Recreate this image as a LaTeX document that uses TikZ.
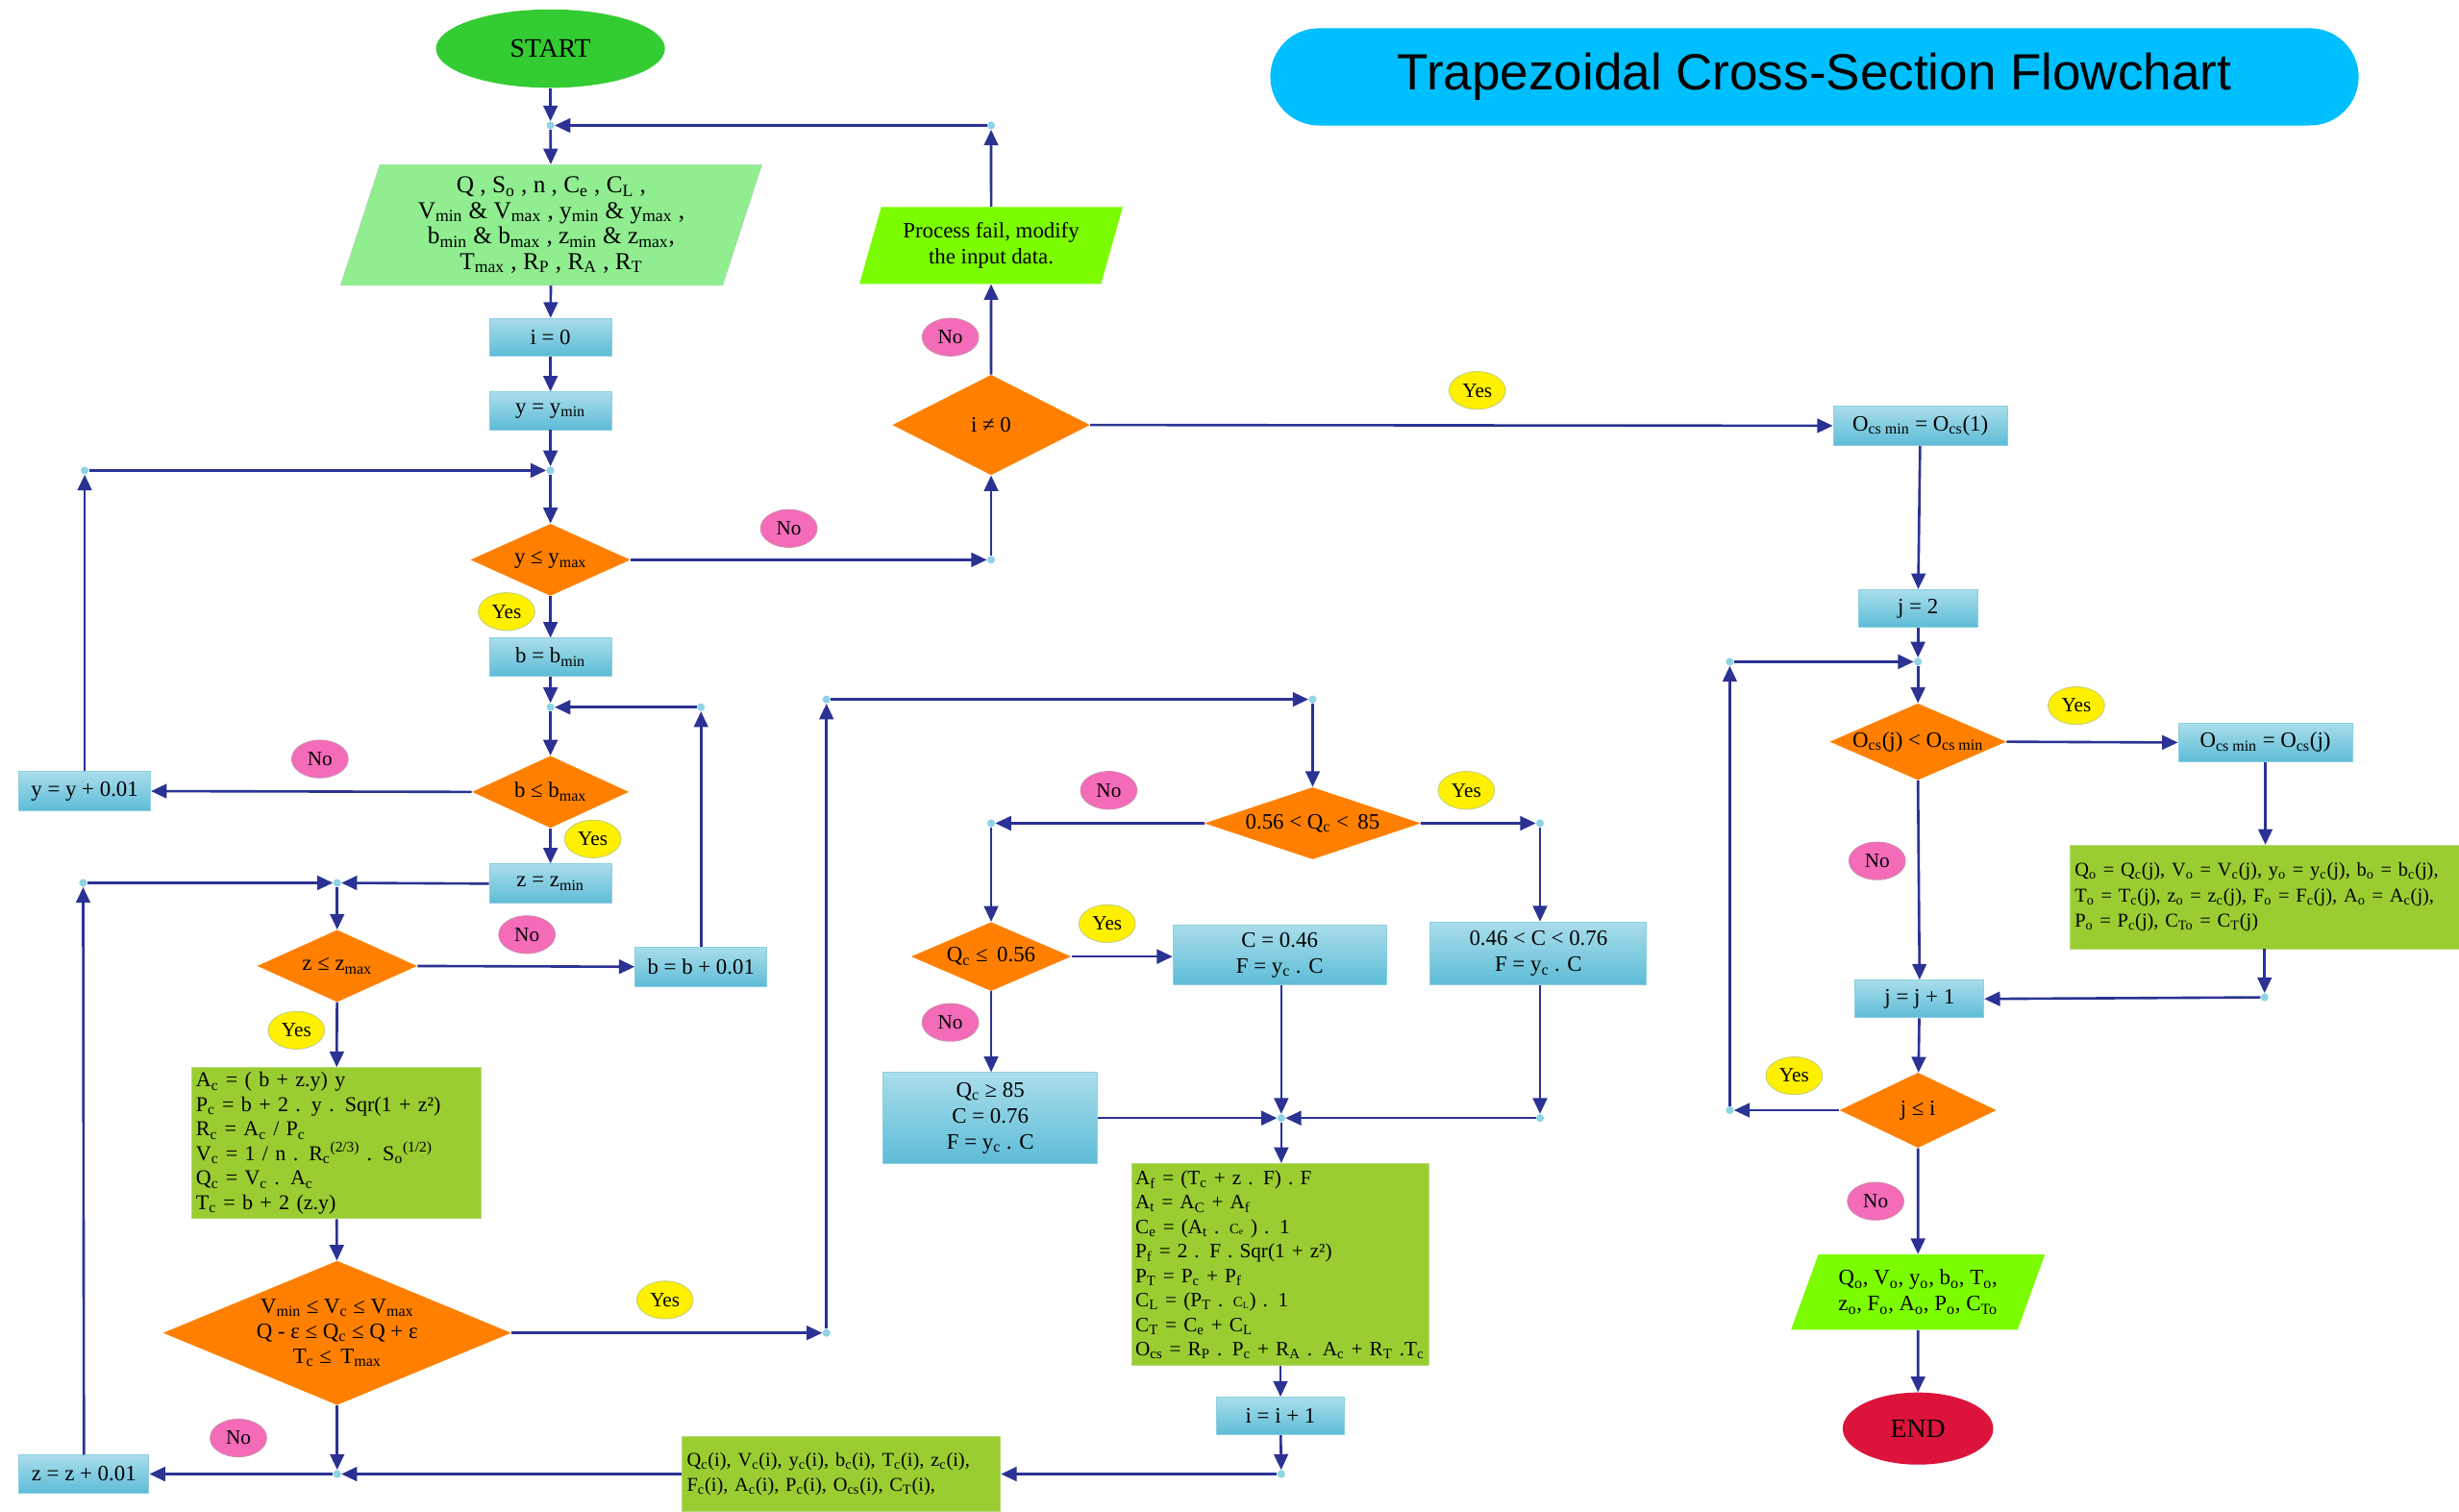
\documentclass[tikz,border=0pt]{standalone}
\usepackage{fontspec}
\setmainfont{Liberation Serif}
\newfontfamily\titlefont{Liberation Sans}
\usetikzlibrary{shapes.geometric,arrows.meta}
\newcommand\sbs[1]{\textsubscript{#1}}
\newcommand\sps[1]{\textsuperscript{#1}}
\newcommand\smallc[1]{{\fontsize{9}{9}\selectfont #1}}
\definecolor{linec}{HTML}{2B3293}
\definecolor{dotc}{HTML}{8ED3E6}
\definecolor{decc}{HTML}{FF8000}
\definecolor{proctop}{HTML}{A9DDEB}
\definecolor{procbot}{HTML}{5DBCD7}
\definecolor{procb}{HTML}{8CCFE0}
\definecolor{inc}{HTML}{90EE90}
\definecolor{lawn}{HTML}{7CFC00}
\definecolor{calcg}{HTML}{9ACD32}
\definecolor{calcb}{HTML}{B5DA78}
\definecolor{startc}{HTML}{33CC33}
\definecolor{endc}{HTML}{DC143C}
\definecolor{yesc}{HTML}{FFF000}
\definecolor{yesb}{HTML}{C9D27A}
\definecolor{noc}{HTML}{F46BB8}
\definecolor{nob}{HTML}{D38AB0}
\definecolor{titlec}{HTML}{00BFFF}
\begin{document}
\begin{tikzpicture}[x=1pt,y=-1pt,
  arr/.style={draw=linec, line width=1.6pt, -{Triangle[length=10pt,width=9pt]}},
  proc/.style={rectangle, draw=procb, line width=0.6pt, top color=proctop, middle color=proctop!92!procbot, bottom color=procbot, inner sep=2pt, align=center, font=\fontsize{14}{16.5}\selectfont},
  dec/.style={diamond, fill=decc, inner sep=0pt, align=center, font=\fontsize{14}{16.5}\selectfont},
  calc/.style={rectangle, fill=calcg, draw=calcb, line width=0.6pt, align=left, inner sep=3pt},
  para/.style={trapezium, trapezium stretches=true, inner sep=2pt, align=center, font=\fontsize{14}{16.5}\selectfont},
  dot/.style={circle, fill=dotc, inner sep=0pt, minimum size=5pt},
  yes/.style={ellipse, fill=yesc, draw=yesb, line width=0.6pt, minimum width=36pt, minimum height=24pt, inner sep=0pt, font=\fontsize{13}{13}\selectfont},
  no/.style={ellipse, fill=noc, draw=nob, line width=0.6pt, minimum width=36pt, minimum height=24pt, inner sep=0pt, font=\fontsize{13}{13}\selectfont},
  term/.style={ellipse, inner sep=0pt, font=\fontsize{17}{17}\selectfont}
]
\useasboundingbox (0,0) rectangle (1568,964);
\fill[white] (0,0) rectangle (1568,964);

% title
\node[rectangle, rounded corners=31pt, fill=titlec, minimum width=694pt, minimum height=62pt, font=\titlefont\fontsize{32.5}{34}\selectfont] (title) at (1157,49) {Trapezoidal Cross-Section Flowchart};

% left column
\node[term, fill=startc, minimum width=146pt, minimum height=50pt] (start) at (351,31) {START};
\node[dot] (j0) at (351,80) {};
\node[dot] (d1) at (632,80) {};
\node[para, fill=inc, draw=inc!80!black!60, line width=0.4pt, minimum width=269pt, minimum height=77pt, trapezium left angle=73, trapezium right angle=107, font=\fontsize{15.5}{16.2}\selectfont] (input) at (351.5,143.5)
 {Q , S\sbs{o} , n , C\sbs{e} , C\sbs{L} ,\\ V\sbs{min} \& V\sbs{max} , y\sbs{min} \& y\sbs{max} ,\\ b\sbs{min} \& b\sbs{max} , z\sbs{min} \& z\sbs{max},\\ T\sbs{max} , R\sbs{P} , R\sbs{A} , R\sbs{T}};
\node[proc, minimum width=78pt, minimum height=24pt] (i0) at (351,215) {i = 0};
\node[proc, minimum width=78pt, minimum height=24pt] (ymin) at (351,262) {y = y\sbs{min}};
\node[dot] (j1) at (351,300) {};
\node[dot] (d2) at (54,300) {};
\node[dec, minimum width=102pt, minimum height=46pt, aspect=2.2] (dy) at (351,357) {y ≤ y\sbs{max}};
\node[proc, minimum width=78pt, minimum height=24pt] (bmin) at (351,419) {b = b\sbs{min}};
\node[dot] (j2) at (351,451) {};
\node[dot] (d3) at (447,451) {};
\node[dec, minimum width=100pt, minimum height=46pt, aspect=2.2] (db) at (351,505) {b ≤ b\sbs{max}};
\node[proc, minimum width=84pt, minimum height=25pt] (yinc) at (54,504.5) {y = y + 0.01};
\node[proc, minimum width=78pt, minimum height=25pt] (zmin) at (351,563.5) {z = z\sbs{min}};
\node[dot] (j3) at (215,563) {};
\node[dot] (d4) at (53,563) {};
\node[dec, minimum width=102pt, minimum height=46pt, aspect=2.2] (dz) at (215,616) {z ≤ z\sbs{max}};
\node[proc, minimum width=84pt, minimum height=25pt] (binc) at (447,616.5) {b = b + 0.01};
\node[calc, minimum width=185pt, minimum height=96pt, text width=179pt, font=\fontsize{13.5}{15.6}\selectfont] (calc1) at (214.5,729)
 {A\sbs{c} = ( b + z.y) y\\
  P\sbs{c} = b + 2 . y . Sqr(1 + z²)\\
  R\sbs{c} = A\sbs{c} / P\sbs{c}\\
  V\sbs{c} = 1 / n . R\sbs{c}\sps{(2/3)} . S\sbs{o}\sps{(1/2)}\\
  Q\sbs{c} = V\sbs{c} . A\sbs{c}\\
  T\sbs{c} = b + 2 (z.y)};
\node[dec, minimum width=222pt, minimum height=92pt, aspect=2.41, font=\fontsize{14}{16}\selectfont] (dv) at (215,850)
 {V\sbs{min} ≤ V\sbs{c} ≤ V\sbs{max}\\ Q - ε ≤ Q\sbs{c} ≤ Q + ε\\ T\sbs{c} ≤ \,T\sbs{max}};
\node[dot] (d5) at (527,850) {};
\node[dot] (d6) at (527,446) {};
\node[dot] (d7) at (837,446) {};
\node[dot] (j5) at (215,940) {};
\node[proc, minimum width=83pt, minimum height=24pt] (zinc) at (53.5,940) {z = z + 0.01};
\node[calc, minimum width=203pt, minimum height=48pt, text width=197pt, font=\fontsize{12.5}{16}\selectfont] (out1) at (536.5,940)
 {Q\sbs{c}(i), V\sbs{c}(i), y\sbs{c}(i), b\sbs{c}(i), T\sbs{c}(i), z\sbs{c}(i),\\
  F\sbs{c}(i), A\sbs{c}(i), P\sbs{c}(i), O\sbs{cs}(i), C\sbs{T}(i),};

% middle section
\node[dec, minimum width=126pt, minimum height=64pt, aspect=1.97] (di) at (632,271) {i ≠ 0};
\node[dot] (d12) at (632,357) {};
\node[para, fill=lawn, minimum width=168pt, minimum height=49pt, trapezium left angle=71, trapezium right angle=109] (pf) at (632,156.5)
 {Process fail, modify\\ the input data.};
\node[dec, minimum width=138pt, minimum height=46pt, aspect=3] (dq) at (837,525) {0.56 < Q\sbs{c} < \,85};
\node[dot] (d8) at (632,525) {};
\node[dot] (d9) at (982,525) {};
\node[dec, minimum width=102pt, minimum height=44pt, aspect=2.32] (dq2) at (632,610) {Q\sbs{c} ≤ \,0.56};
\node[proc, minimum width=136pt, minimum height=38pt] (c1) at (816,609) {C = 0.46\\ F = y\sbs{c} . C};
\node[proc, minimum width=138pt, minimum height=40pt] (c2) at (981,608) {0.46 < C < 0.76\\ F = y\sbs{c} . C};
\node[proc, minimum width=137pt, minimum height=58pt] (c3) at (631.5,713) {Q\sbs{c} ≥ 85\\ C = 0.76\\ F = y\sbs{c} . C};
\node[dot] (j4) at (817,713) {};
\node[dot] (d10) at (982,713) {};
\node[calc, minimum width=189pt, minimum height=129pt, text width=185pt, inner sep=2pt, font=\fontsize{13}{15.6}\selectfont] (calc2) at (816.5,806.5)
 {A\sbs{f} = (T\sbs{c} + z . F) . F\\
  A\sbs{t} = A\sbs{C} + A\sbs{f}\\
  C\sbs{e} = (A\sbs{t} . \smallc{C\sbs{e}} ) . 1\\
  P\sbs{f} = 2 . F . Sqr(1 + z²)\\
  P\sbs{T} = P\sbs{c} + P\sbs{f}\\
  C\sbs{L} = (P\sbs{T} . \smallc{C\sbs{L}}) . 1\\
  C\sbs{T} = C\sbs{e} + C\sbs{L}\\
  \mbox{O\sbs{cs} = R\sbs{P} . P\sbs{c} + R\sbs{A} . A\sbs{c} + R\sbs{T} .T\sbs{c}}};
\node[proc, minimum width=81pt, minimum height=24pt] (iinc) at (816.5,903) {i = i + 1};
\node[dot] (d11) at (817,940) {};

% right section
\node[proc, minimum width=111pt, minimum height=25pt] (ocs1) at (1224.5,271.5) {O\sbs{cs min} = O\sbs{cs}(1)};
\node[proc, minimum width=76pt, minimum height=24pt] (j2b) at (1223,388) {j = 2};
\node[dot] (j6) at (1223,422) {};
\node[dot] (d13) at (1103,422) {};
\node[dec, minimum width=110pt, minimum height=48pt, aspect=2.3] (do) at (1223,473) {O\sbs{cs}(j) < O\sbs{cs min}};
\node[proc, minimum width=111pt, minimum height=25pt] (ocsj) at (1444.5,473.5) {O\sbs{cs min} = O\sbs{cs}(j)};
\node[calc, minimum width=248pt, minimum height=66pt, text width=242pt, font=\fontsize{12.5}{16.5}\selectfont] (calc3) at (1444,572)
 {Q\sbs{o} = Q\sbs{c}(j), V\sbs{o} = V\sbs{c}(j), y\sbs{o} = y\sbs{c}(j), b\sbs{o} = b\sbs{c}(j),\\
  T\sbs{o} = T\sbs{c}(j), z\sbs{o} = z\sbs{c}(j), F\sbs{o} = F\sbs{c}(j), A\sbs{o} = A\sbs{c}(j),\\
  P\sbs{o} = P\sbs{c}(j), C\sbs{To} = C\sbs{T}(j)};
\node[dot] (d14) at (1444,636) {};
\node[proc, minimum width=82pt, minimum height=24pt] (jinc) at (1224,637) {j = j + 1};
\node[dec, minimum width=100pt, minimum height=48pt, aspect=2.1] (dj) at (1223,708) {j ≤ i};
\node[dot] (d15) at (1103,708) {};
\node[para, fill=lawn, minimum width=162pt, minimum height=48pt, trapezium left angle=66, trapezium right angle=114] (out2) at (1223,824)
 {Q\sbs{o}, V\sbs{o}, y\sbs{o}, b\sbs{o}, T\sbs{o},\\ z\sbs{o}, F\sbs{o}, A\sbs{o}, P\sbs{o}, C\sbs{To}};
\node[term, fill=endc, minimum width=96pt, minimum height=46pt] (end) at (1223,911) {END};

% connectors: left column
\draw[arr] (start) -- (j0);
\draw[arr] (j0) -- (input);
\draw[arr] (d1) -- (j0);
\draw[arr] (input) -- (i0);
\draw[arr] (i0) -- (ymin);
\draw[arr] (ymin) -- (j1);
\draw[arr] (d2) -- (j1);
\draw[arr] (j1) -- (dy);
\draw[arr] (dy) -- (bmin);
\draw[arr] (bmin) -- (j2);
\draw[arr] (d3) -- (j2);
\draw[arr] (j2) -- (db);
\draw[arr] (db.west) -- (yinc.east);
\draw[arr] (yinc.north) -- (d2);
\draw[arr] (db) -- (zmin);
\draw[arr] (zmin.west) -- (j3);
\draw[arr] (d4) -- (j3);
\draw[arr] (j3) -- (dz);
\draw[arr] (dz.east) -- (binc.west);
\draw[arr] (binc.north) -- (d3);
\draw[arr] (dz) -- (calc1);
\draw[arr] (calc1) -- (dv);
\draw[arr] (dv.east) -- (d5);
\draw[arr] (d5) -- (d6);
\draw[arr] (d6) -- (d7);
\draw[arr] (d7) -- (dq.north);
\draw[arr] (dv.south) -- (j5);
\draw[arr] (out1.west) -- (j5);
\draw[arr] (j5) -- (zinc.east);
\draw[arr] (zinc.north) -- (d4);

% middle
\draw[arr] (dy.east) -- (d12);
\draw[arr] (d12) -- (di.south);
\draw[arr] (di.north) -- (pf.south);
\draw[arr] (pf.north) -- (d1);
\draw[arr] (di.east) -- (ocs1.west);
\draw[arr] (dq.west) -- (d8);
\draw[arr] (d8) -- (dq2.north);
\draw[arr] (dq.east) -- (d9);
\draw[arr] (d9) -- (c2.north -| d9);
\draw[arr] (dq2.east) -- (c1.west |- dq2.east);
\draw[arr] (dq2.south) -- (c3.north -| dq2.south);
\draw[arr] (c1.south -| j4) -- (j4);
\draw[arr] (c3.east) -- (j4);
\draw[arr] (c2.south -| d10) -- (d10);
\draw[arr] (d10) -- (j4);
\draw[arr] (j4) -- (calc2.north -| j4);
\draw[arr] (calc2.south -| iinc) -- (iinc.north);
\draw[arr] (iinc) -- (d11);
\draw[arr] (d11) -- (out1.east);

% right
\draw[arr] (ocs1) -- (j2b);
\draw[arr] (j2b) -- (j6);
\draw[arr] (d13) -- (j6);
\draw[arr] (j6) -- (do);
\draw[arr] (do.east) -- (ocsj.west);
\draw[arr] (ocsj) -- (calc3.north -| ocsj);
\draw[arr] (calc3.south -| d14) -- (d14);
\draw[arr] (d14) -- (jinc.east);
\draw[arr] (do.south) -- (jinc.north);
\draw[arr] (jinc) -- (dj);
\draw[arr] (dj.west) -- (d15);
\draw[arr] (d15) -- (d13);
\draw[arr] (dj.south) -- (out2.north);
\draw[arr] (out2.south) -- (end);

% Yes / No labels
\node[no] (n1) at (606,215) {No};
\node[yes] (y1) at (942,249) {Yes};
\node[no] (n2) at (503,337) {No};
\node[yes] (y2) at (323,390) {Yes};
\node[no] (n3) at (204,484) {No};
\node[yes] (y3) at (378,535) {Yes};
\node[no] (n4) at (336,596) {No};
\node[yes] (y4) at (189,657) {Yes};
\node[yes] (y5) at (424,829) {Yes};
\node[no] (n5) at (152,917) {No};
\node[no] (n6) at (707,504) {No};
\node[yes] (y6) at (935,504) {Yes};
\node[yes] (y7) at (706,589) {Yes};
\node[no] (n7) at (606,652) {No};
\node[yes] (y8) at (1324,450) {Yes};
\node[no] (n8) at (1197,549) {No};
\node[yes] (y9) at (1144,686) {Yes};
\node[no] (n9) at (1196,766) {No};
\end{tikzpicture}
\end{document}
